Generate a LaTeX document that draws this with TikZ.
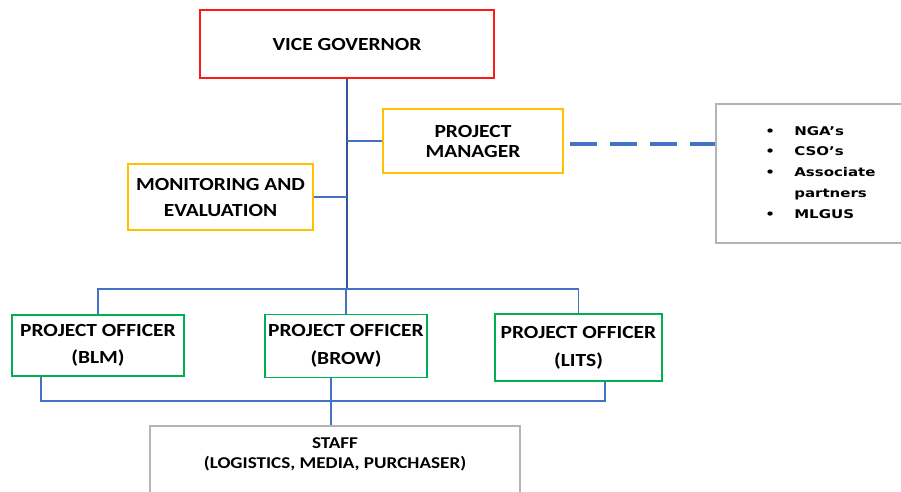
\documentclass[tikz,border=0pt]{standalone}
\usepackage{fontspec}
\setmainfont{Carlito}[FakeStretch=1.16]
\newfontfamily\listfont{DejaVu Sans}[FakeStretch=1.25]
\definecolor{vgred}{HTML}{FF1A1A}
\definecolor{mgold}{HTML}{FFC000}
\definecolor{pogreen}{HTML}{00B050}
\definecolor{grayb}{HTML}{B4B4B4}
\definecolor{lineblue}{HTML}{4472C4}
\definecolor{trunkblue}{HTML}{2F5597}
\begin{document}
\begin{tikzpicture}[x=1pt,y=-1pt,
  box/.style={draw, line width=1.8pt, rectangle, inner sep=0pt, align=center},
  conn/.style={draw=lineblue, line width=1.5pt},
  trunk/.style={draw=trunkblue, line width=2.2pt},
  dashconn/.style={draw=lineblue, line width=4pt, dash pattern=on 27pt off 13pt},
  bigfont/.style={font=\bfseries\fontsize{18.5}{20}\selectfont},
]
\useasboundingbox (0,0) rectangle (901,491);
\clip (0,0) rectangle (901,491);

\node[box, draw=vgred, minimum width=294pt, minimum height=68pt, bigfont] (vg) at (347,44) {VICE GOVERNOR};
\node[box, draw=mgold, minimum width=180pt, minimum height=64pt, font=\bfseries\fontsize{18.5}{20}\selectfont] (pm) at (473,141) {PROJECT\\MANAGER};
\node[box, draw=mgold, minimum width=185pt, minimum height=66pt, font=\bfseries\fontsize{18.5}{26}\selectfont] (me) at (220.5,197) {MONITORING AND\\EVALUATION};
\node[box, draw=grayb, minimum width=190pt, minimum height=139pt] (ext) at (811,173.5) {};
\node[anchor=north west, inner sep=0pt, font=\listfont\bfseries\fontsize{12}{20.7}\selectfont, align=left] (extlist) at ([xshift=50pt,yshift=-23pt]ext.north west)
  {\makebox[29pt][l]{\textbullet}NGA’s\\
   \makebox[29pt][l]{\textbullet}CSO’s\\
   \makebox[29pt][l]{\textbullet}Associate\\
   \makebox[29pt][l]{}partners\\
   \makebox[29pt][l]{\textbullet}MLGUS};

\node[box, draw=pogreen, minimum width=172pt, minimum height=61pt, font=\bfseries\fontsize{18.5}{27}\selectfont] (blm) at (98,345.5) {PROJECT OFFICER\\(BLM)};
\node[box, draw=pogreen, minimum width=162pt, minimum height=63pt, font=\bfseries\fontsize{18.5}{28}\selectfont] (brow) at (346,346) {PROJECT OFFICER\\(BROW)};
\node[box, draw=pogreen, minimum width=167pt, minimum height=67pt, font=\bfseries\fontsize{18.5}{28}\selectfont] (lits) at (578.5,347.5) {PROJECT OFFICER\\(LITS)};

\node[box, draw=grayb, minimum width=370pt, minimum height=80pt,
  label={[anchor=north, inner sep=0pt, align=center, yshift=-12pt, font=\bfseries\fontsize{16.5}{20}\selectfont]north:{STAFF\\(LOGISTICS, MEDIA, PURCHASER)}}] (staff) at (335,466) {};

% connectors
\draw[trunk] (vg.south) -- ++(0,210) coordinate (bus);
\draw[conn] (pm.west) -- (pm.west -| vg.south);
\draw[conn] (me.east) -- (me.east -| vg.south);
\draw[dashconn] ([xshift=6pt,yshift=-3pt]pm.east) -- ([yshift=-3pt]pm.east -| ext.west);

\draw[conn] (blm.north) |- (bus) -| (lits.north);
\draw[conn] (brow.north) -- (brow.north |- bus);

\draw[conn] ([xshift=30pt]blm.south west) -- ++(0,24) coordinate (lowbus) -| ([xshift=111pt]lits.south west);
\draw[conn] ([xshift=-15pt]brow.south) -- ([xshift=-15pt]brow.south |- staff.north);
\end{tikzpicture}
\end{document}
